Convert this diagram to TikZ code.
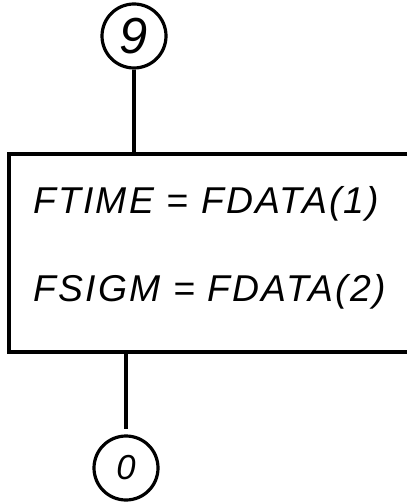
\documentclass[tikz,border=0pt]{standalone}
\usepackage{fontspec}
\newfontfamily\handfont{Liberation Sans}[LetterSpace=6]
\usetikzlibrary{positioning}

\begin{document}
\begin{tikzpicture}[
        x=0.75pt, y=-0.75pt,
        conn/.style={circle, draw=black, line width=2.4pt, minimum size=48pt, inner sep=0pt, font=\handfont\itshape},
        stmt/.style={anchor=base west, inner sep=0pt, font=\handfont\itshape\fontsize{28}{32}\selectfont},
        flow/.style={line width=2.6pt}
    ]
    \useasboundingbox (0,0) rectangle (407,502);

    % Connectors
    \node[conn, font=\handfont\itshape\fontsize{38}{40}\selectfont] (c9) at (134,36) {9};
    \node[conn, font=\handfont\itshape\fontsize{26}{28}\selectfont] (c0) at (126,468) {0};

    % Process box, open to the right
    \coordinate (bnw) at (9,154);
    \coordinate (bne) at (407,154);
    \coordinate (bsw) at (9,352);
    \coordinate (bse) at (407,352);
    \draw[flow] (bne) -- (bnw) -- (bsw) -- (bse);

    \node[stmt] (s1) at (33,213) {FTIME = FDATA(1)};
    \node[stmt] (s2) at (33,301) {FSIGM = FDATA(2)};

    \draw[flow] (c9.south) -- (c9.south |- bnw);
    \draw[flow] (c0.north |- bsw) -- ([yshift=4pt]c0.north);
\end{tikzpicture}
\end{document}
